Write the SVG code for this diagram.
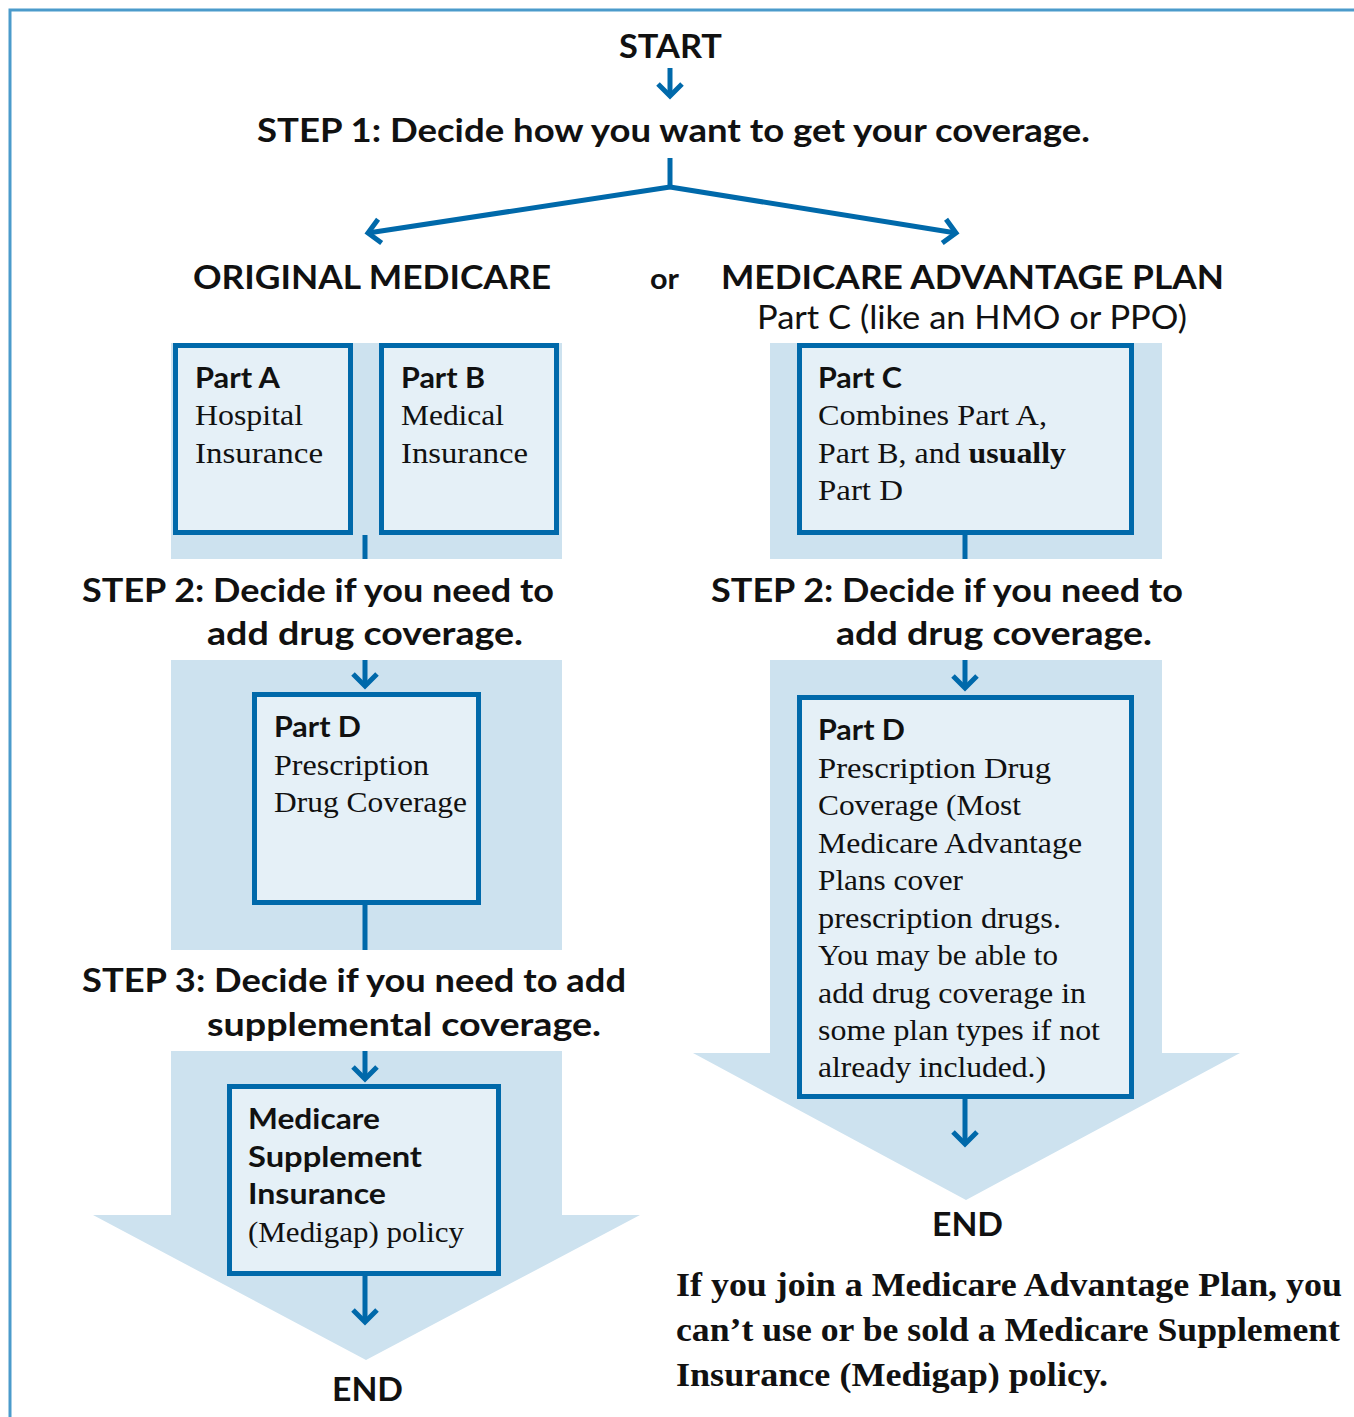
<svg xmlns="http://www.w3.org/2000/svg" width="1354" height="1417" viewBox="0 0 1354 1417">
<style>
.h{font-family:Lato,"Liberation Sans",sans-serif;font-weight:700;fill:#111;font-size:32px}
.hb{font-family:Lato,"Liberation Sans",sans-serif;font-weight:700;fill:#111;font-size:28px}
.r{font-family:"Liberation Serif",serif;fill:#111;font-size:30px}
.sb{font-family:"Liberation Serif",serif;font-weight:700;fill:#111;font-size:33px}
.sr{font-family:Lato,"Liberation Sans",sans-serif;fill:#111;font-size:32px}
.panel{fill:#cde2ef}
.box{fill:#e5f0f7;stroke:#0069aa;stroke-width:5}
.ln{stroke:#0069aa;stroke-width:5;fill:none}
</style>
<defs>
<marker id="chev" markerUnits="userSpaceOnUse" markerWidth="40" markerHeight="40" viewBox="-20 -20 40 40" refX="0" refY="0" orient="auto">
<path d="M-12,-12 L0,0 L-12,12" fill="none" stroke="#0069aa" stroke-width="5"/>
</marker>
</defs>
<rect x="0" y="0" width="1354" height="1417" fill="#fff"/>
<path d="M10,1417 V10 H1354" fill="none" stroke="#4b9bcb" stroke-width="3"/>

<g id="panels">
<rect class="panel" x="171" y="343" width="391" height="216"/>
<rect class="panel" x="770" y="343" width="392" height="216"/>
<rect class="panel" x="171" y="660" width="391" height="290"/>
<path class="panel" d="M171,1051 H562 V1215 H640 L366,1360 L93,1215 H171 Z"/>
<path class="panel" d="M770,660 H1162 V1053 H1240 L966,1200 L693,1053 H770 Z"/>
</g>

<g id="connectors">
<line class="ln" x1="670" y1="68" x2="670" y2="96" marker-end="url(#chev)"/>
<polyline class="ln" points="670,158 670,187"/>
<line class="ln" x1="670" y1="187" x2="368" y2="233" marker-end="url(#chev)"/>
<line class="ln" x1="670" y1="187" x2="956" y2="233" marker-end="url(#chev)"/>
<line class="ln" x1="365" y1="535" x2="365" y2="559"/>
<line class="ln" x1="965" y1="535" x2="965" y2="559"/>
<line class="ln" x1="365" y1="660" x2="365" y2="686" marker-end="url(#chev)"/>
<line class="ln" x1="365" y1="905" x2="365" y2="950"/>
<line class="ln" x1="365" y1="1051" x2="365" y2="1079" marker-end="url(#chev)"/>
<line class="ln" x1="365" y1="1276" x2="365" y2="1322" marker-end="url(#chev)"/>
<line class="ln" x1="965" y1="660" x2="965" y2="688" marker-end="url(#chev)"/>
<line class="ln" x1="965" y1="1099" x2="965" y2="1144" marker-end="url(#chev)"/>
</g>

<g id="start"><text class="h" x="619" y="58" textLength="103" lengthAdjust="spacingAndGlyphs">START</text></g>
<g id="step1"><text class="h" x="257" y="142" textLength="833" lengthAdjust="spacingAndGlyphs">STEP 1: Decide how you want to get your coverage.</text></g>
<g id="original"><text class="h" x="193" y="289" textLength="358" lengthAdjust="spacingAndGlyphs">ORIGINAL MEDICARE</text></g>
<g id="or"><text class="hb" x="650" y="289" textLength="29" lengthAdjust="spacingAndGlyphs">or</text></g>
<g id="advantage">
<text class="h" x="721" y="289" textLength="503" lengthAdjust="spacingAndGlyphs">MEDICARE ADVANTAGE PLAN</text>
<text class="sr" x="757" y="329" textLength="430" lengthAdjust="spacingAndGlyphs">Part C (like an HMO or PPO)</text>
</g>

<g id="partA">
<rect class="box" x="175.5" y="345.5" width="175" height="187"/>
<text class="hb" x="195" y="388" textLength="85" lengthAdjust="spacingAndGlyphs">Part A</text>
<text class="r" x="195" y="425" textLength="108" lengthAdjust="spacingAndGlyphs">Hospital</text>
<text class="r" x="195" y="463" textLength="128" lengthAdjust="spacingAndGlyphs">Insurance</text>
</g>
<g id="partB">
<rect class="box" x="381.5" y="345.5" width="175" height="187"/>
<text class="hb" x="401" y="388" textLength="84" lengthAdjust="spacingAndGlyphs">Part B</text>
<text class="r" x="401" y="425" textLength="103" lengthAdjust="spacingAndGlyphs">Medical</text>
<text class="r" x="401" y="463" textLength="127" lengthAdjust="spacingAndGlyphs">Insurance</text>
</g>
<g id="partC">
<rect class="box" x="799.5" y="345.5" width="332" height="187"/>
<text class="hb" x="818" y="388" textLength="84" lengthAdjust="spacingAndGlyphs">Part C</text>
<text class="r" x="818" y="425" textLength="229" lengthAdjust="spacingAndGlyphs">Combines Part A,</text>
<text class="r" x="818" y="463" textLength="248" lengthAdjust="spacingAndGlyphs">Part B, and <tspan font-weight="700">usually</tspan></text>
<text class="r" x="818" y="500" textLength="85" lengthAdjust="spacingAndGlyphs">Part D</text>
</g>

<g id="step2left">
<text class="h" x="82" y="602" textLength="472" lengthAdjust="spacingAndGlyphs">STEP 2: Decide if you need to</text>
<text class="h" x="207" y="645" textLength="316" lengthAdjust="spacingAndGlyphs">add drug coverage.</text>
</g>
<g id="step2right">
<text class="h" x="711" y="602" textLength="472" lengthAdjust="spacingAndGlyphs">STEP 2: Decide if you need to</text>
<text class="h" x="836" y="645" textLength="316" lengthAdjust="spacingAndGlyphs">add drug coverage.</text>
</g>

<g id="partDleft">
<rect class="box" x="254.5" y="694.5" width="224" height="208"/>
<text class="hb" x="274" y="737" textLength="87" lengthAdjust="spacingAndGlyphs">Part D</text>
<text class="r" x="274" y="775" textLength="155" lengthAdjust="spacingAndGlyphs">Prescription</text>
<text class="r" x="274" y="812" textLength="193" lengthAdjust="spacingAndGlyphs">Drug Coverage</text>
</g>

<g id="step3">
<text class="h" x="82" y="992" textLength="544" lengthAdjust="spacingAndGlyphs">STEP 3: Decide if you need to add</text>
<text class="h" x="207" y="1036" textLength="394" lengthAdjust="spacingAndGlyphs">supplemental coverage.</text>
</g>

<g id="medigap">
<rect class="box" x="229.5" y="1086.5" width="269" height="187"/>
<text class="hb" x="248" y="1129" textLength="132" lengthAdjust="spacingAndGlyphs">Medicare</text>
<text class="hb" x="248" y="1167" textLength="174" lengthAdjust="spacingAndGlyphs">Supplement</text>
<text class="hb" x="248" y="1204" textLength="138" lengthAdjust="spacingAndGlyphs">Insurance</text>
<text class="r" x="248" y="1242" textLength="216" lengthAdjust="spacingAndGlyphs">(Medigap) policy</text>
</g>

<g id="endLeft"><text class="h" x="332" y="1401" textLength="71" lengthAdjust="spacingAndGlyphs">END</text></g>

<g id="partDright">
<rect class="box" x="799.5" y="697.5" width="332" height="399"/>
<text class="hb" x="818" y="740" textLength="87" lengthAdjust="spacingAndGlyphs">Part D</text>
<text class="r" x="818" y="778" textLength="233" lengthAdjust="spacingAndGlyphs">Prescription Drug</text>
<text class="r" x="818" y="815" textLength="203" lengthAdjust="spacingAndGlyphs">Coverage (Most</text>
<text class="r" x="818" y="853" textLength="264" lengthAdjust="spacingAndGlyphs">Medicare Advantage</text>
<text class="r" x="818" y="890" textLength="145" lengthAdjust="spacingAndGlyphs">Plans cover</text>
<text class="r" x="818" y="928" textLength="243" lengthAdjust="spacingAndGlyphs">prescription drugs.</text>
<text class="r" x="818" y="965" textLength="240" lengthAdjust="spacingAndGlyphs">You may be able to</text>
<text class="r" x="818" y="1003" textLength="268" lengthAdjust="spacingAndGlyphs">add drug coverage in</text>
<text class="r" x="818" y="1040" textLength="282" lengthAdjust="spacingAndGlyphs">some plan types if not</text>
<text class="r" x="818" y="1077" textLength="228" lengthAdjust="spacingAndGlyphs">already included.)</text>
</g>

<g id="endRight"><text class="h" x="932" y="1236" textLength="71" lengthAdjust="spacingAndGlyphs">END</text></g>

<g id="note">
<text class="sb" x="676" y="1296" textLength="666" lengthAdjust="spacingAndGlyphs">If you join a Medicare Advantage Plan, you</text>
<text class="sb" x="676" y="1341" textLength="664" lengthAdjust="spacingAndGlyphs">can’t use or be sold a Medicare Supplement</text>
<text class="sb" x="676" y="1386" textLength="432" lengthAdjust="spacingAndGlyphs">Insurance (Medigap) policy.</text>
</g>
</svg>
